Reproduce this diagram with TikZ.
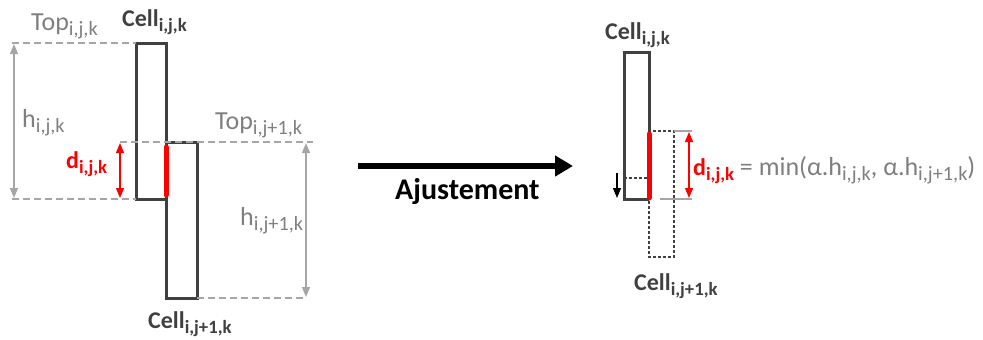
\documentclass[tikz,border=0pt]{standalone}
\usepackage{fontspec}
\setmainfont{Carlito}
\usetikzlibrary{arrows.meta, positioning, calc}
\definecolor{celldark}{HTML}{404040}
\definecolor{labgray}{HTML}{7F7F7F}
\definecolor{arrgray}{HTML}{A6A6A6}
\newcommand{\idx}[1]{\raisebox{-0.22em}{\scalebox{0.78}{#1}}}

\begin{document}
\begin{tikzpicture}[x=1pt, y=-1pt,
    cellbox/.style={draw=celldark, line width=3pt},
    ghostbox/.style={draw=celldark, line width=1.6pt, dash pattern=on 3pt off 2pt},
    guide/.style={draw=arrgray, line width=1.2pt, dash pattern=on 7pt off 4pt},
    dimarrow/.style={draw=arrgray, line width=1.2pt, {Triangle[length=10pt,width=8pt]}-{Triangle[length=10pt,width=8pt]}},
    redarrow/.style={draw=red, line width=1.2pt, {Triangle[length=10pt,width=8pt]}-{Triangle[length=10pt,width=8pt]}},
    overlap/.style={draw=red, line width=5pt, line cap=round},
    lbl/.style={font=\fontsize{26}{29}\selectfont, inner sep=0pt, anchor=base west},
    boldlbl/.style={lbl, font=\fontsize{24}{27}\selectfont\bfseries},
    every node/.style={inner sep=0pt}]
    \useasboundingbox (0,0) rectangle (983,340);

    % Left: the two cells before
    \coordinate (topA) at (136,43);
    \coordinate (botA) at (166,199);
    \coordinate (topB) at (166,142);
    \coordinate (botB) at (197,298);
    \draw[cellbox] (topA) rectangle (botA);
    \draw[cellbox] (topB) rectangle (botB);
    \draw[overlap] (166,147) -- (166,195);

    % Guide lines
    \coordinate (gA1) at (12,43);
    \coordinate (gA2) at (12,199);
    \coordinate (gB1) at (313,142);
    \coordinate (gB2) at (306,298);
    \draw[guide] (gA1) -- (topA);
    \draw[guide] (gA2) -- (136,199);
    \draw[guide] (120,142) -- (gB1);
    \draw[guide] (197,298) -- (gB2);

    % Dimensions
    \draw[dimarrow] (14,44) -- (14,198);
    \draw[dimarrow] (306,143) -- (306,297);
    \draw[redarrow] (120,143) -- (120,198);

    % Labels
    \node[lbl, text=labgray] (topLA) at (31,30) {Top\idx{i,j,k}};
    \node[boldlbl, text=celldark] (cellLA) at (122,26) {Cell\idx{i,j,k}};
    \node[lbl, text=labgray] (hLA) at (22,127) {h\idx{i,j,k}};
    \node[lbl, text=labgray] (topLB) at (215,129) {Top\idx{i,j+1,k}};
    \node[boldlbl, text=red] (dL) at (66,168) {d\idx{i,j,k}};
    \node[lbl, text=labgray] (hLB) at (240,225) {h\idx{i,j+1,k}};
    \node[boldlbl, text=celldark] (cellLB) at (148,328) {Cell\idx{i,j+1,k}};

    % Transition
    \coordinate (adjS) at (358,166);
    \coordinate (adjE) at (573,166);
    \draw[line width=6pt, -{Triangle[length=18pt,width=20pt]}] (adjS) -- (adjE);
    \node[lbl, font=\fontsize{30}{33}\selectfont\bfseries] (adj) at (395,199) {Ajustement};

    % Right: after adjustment
    \coordinate (topR) at (624,52);
    \coordinate (botR) at (649,199);
    \draw[cellbox] (649,131) -- (649,52) -- (624,52) -- (624,199) -- (649,199);
    \draw[ghostbox] (649,131) rectangle (674,257);
    \draw[ghostbox] (624,178) -- (649,178);
    \draw[overlap] (649,134) -- (649,198);
    \draw[line width=1.2pt, -{Triangle[length=10pt,width=8pt]}] (617,173) -- (617,198);
    \draw[draw=arrgray, line width=1.2pt] (674,131) -- (692,131);
    \draw[draw=arrgray, line width=1.2pt] (660,199) -- (692,199);
    \draw[redarrow] (689,132) -- (689,198);

    \node[boldlbl, text=celldark] (cellRA) at (605,39) {Cell\idx{i,j,k}};
    \node[boldlbl, text=celldark] (cellRB) at (634,290) {Cell\idx{i,j+1,k}};
    \node[lbl] (eq) at (693,175) {\textcolor{red}{\fontsize{24}{27}\selectfont\bfseries d\idx{i,j,k}} \textcolor{labgray}{= min(α.h\idx{i,j,k}, α.h\idx{i,j+1,k})}};
\end{tikzpicture}
\end{document}
